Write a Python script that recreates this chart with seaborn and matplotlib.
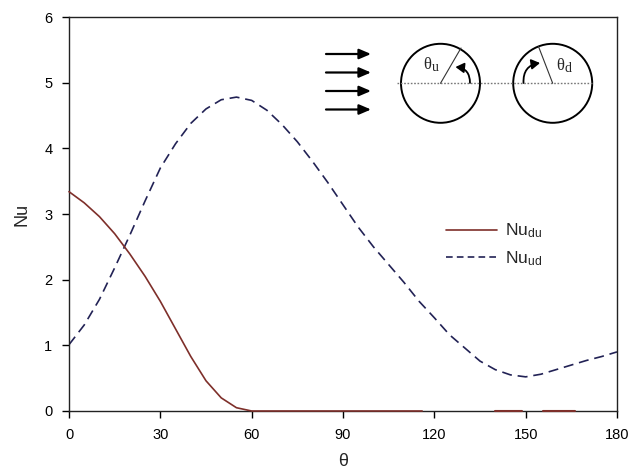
import numpy as np
import pandas as pd
import matplotlib
matplotlib.use("Agg")
import matplotlib.pyplot as plt
import seaborn as sns
from matplotlib.patches import Circle, FancyArrowPatch
from matplotlib.lines import Line2D

# ---------------- data ----------------
theta_du = [0, 5, 10, 15, 20, 25, 30, 35, 40, 45, 50, 55, 60, 70, 80, 90, 100, 110, 116]
nu_du = [3.34, 3.17, 2.96, 2.70, 2.39, 2.05, 1.67, 1.25, 0.83, 0.46, 0.20, 0.05, 0.0,
         0.0, 0.0, 0.0, 0.0, 0.0, 0.0]
theta_du_seg2 = [140, 148.7]
nu_du_seg2 = [0.0, 0.0]
theta_du_seg3 = [155.7, 166.2]
nu_du_seg3 = [0.0, 0.0]

theta_ud = [0, 5, 10, 15, 20, 25, 30, 35, 40, 45, 50, 55, 60, 65, 70, 75, 80, 85, 90,
            95, 100, 105, 110, 115, 120, 125, 130, 135, 140, 145, 150, 155, 160, 165,
            170, 175, 180]
nu_ud = [1.01, 1.31, 1.70, 2.18, 2.68, 3.20, 3.70, 4.07, 4.38, 4.60, 4.74, 4.78, 4.73,
         4.58, 4.36, 4.10, 3.80, 3.48, 3.14, 2.80, 2.50, 2.23, 1.96, 1.67, 1.42, 1.16,
         0.96, 0.76, 0.63, 0.55, 0.52, 0.56, 0.63, 0.70, 0.77, 0.83, 0.90]

x_ticks = [0, 30, 60, 90, 120, 150, 180]
y_ticks = [0, 1, 2, 3, 4, 5, 6]
labels = ["Nu$\\mathregular{_{du}}$", "Nu$\\mathregular{_{ud}}$"]

RED = "#7e2f2a"
BLUE = "#222255"

sns.set_style("white")
plt.rcParams["font.family"] = ["Liberation Sans", "DejaVu Sans"]
plt.rcParams["mathtext.fontset"] = "custom"
plt.rcParams["mathtext.rm"] = "Liberation Sans"

W, H = 638, 472
fig = plt.figure(figsize=(W / 100, H / 100), dpi=100)
ax = fig.add_axes([69 / W, 1 - 411 / H, 548 / W, 394 / H])

df_du = pd.DataFrame({"theta": theta_du, "Nu": nu_du})
df_ud = pd.DataFrame({"theta": theta_ud, "Nu": nu_ud})
sns.lineplot(data=df_du, x="theta", y="Nu", ax=ax, color=RED, lw=1.2, estimator=None,
             sort=False, zorder=5, clip_on=False)
for tx, ny in [(theta_du_seg2, nu_du_seg2), (theta_du_seg3, nu_du_seg3)]:
    sns.lineplot(x=tx, y=ny, ax=ax, color=RED, lw=1.5, estimator=None, zorder=5,
                 clip_on=False)
sns.lineplot(data=df_ud, x="theta", y="Nu", ax=ax, color=BLUE, lw=1.2, estimator=None,
             sort=False, dashes=False, linestyle=(0, (6, 3.5)))

ax.set_xlim(0, 180)
ax.set_ylim(0, 6)
ax.set_xticks(x_ticks)
ax.set_yticks(y_ticks)
ax.tick_params(axis="both", direction="out", length=5, width=1, colors="black",
               labelsize=10.5, bottom=True, left=True, top=False, right=False)
ax.tick_params(axis="x", pad=7)
ax.tick_params(axis="y", pad=7)
for s in ax.spines.values():
    s.set_color("#222222")
    s.set_linewidth(1.0)
    s.set_visible(True)
ax.set_xlabel("θ", fontsize=13, labelpad=8)
ax.set_ylabel("Nu", fontsize=13, labelpad=10)

handles = [Line2D([], [], color=RED, lw=1.2),
           Line2D([], [], color=BLUE, lw=1.2, linestyle=(0, (4, 2.5)))]
leg = ax.legend(handles, labels, loc="upper left", bbox_to_anchor=(0.66, 0.52),
                frameon=False, fontsize=12.5, handlelength=2.9, handletextpad=0.5,
                labelspacing=0.5)

# ---------------- inset schematic (pixel-space axes) ----------------
x0, x1, y0, y1 = 290, 620, 20, 140
iax = fig.add_axes([x0 / W, 1 - y1 / H, (x1 - x0) / W, (y1 - y0) / H])
iax.set_xlim(x0, x1)
iax.set_ylim(y1, y0)
iax.axis("off")

for yy in [54, 72.5, 91, 109.5]:
    iax.annotate("", xy=(371, yy), xytext=(326, yy),
                 arrowprops=dict(arrowstyle="-|>,head_length=0.7,head_width=0.3",
                                 color="black", lw=1.6, shrinkA=0, shrinkB=0))

iax.plot([397, 592], [83.3, 83.3], color="#777777", lw=1.0, linestyle=(0, (1.2, 1.2)))
for cx in [440.5, 552.7]:
    iax.add_patch(Circle((cx, 83.3), 39.5, fill=False, ec="black", lw=1.4))

# radial lines
iax.plot([440.5, 461], [83.3, 48], color="#333333", lw=0.8)
iax.plot([552.7, 538.5], [83.3, 46.5], color="#333333", lw=0.8)

# angle arrows
iax.add_patch(FancyArrowPatch((470, 83), (455.5, 67), connectionstyle="arc3,rad=0.45",
                              arrowstyle="-|>,head_length=5,head_width=3",
                              color="black", lw=1.3, shrinkA=0, shrinkB=0))
iax.add_patch(FancyArrowPatch((523.5, 83), (540, 63), connectionstyle="arc3,rad=-0.45",
                              arrowstyle="-|>,head_length=5,head_width=3",
                              color="black", lw=1.3, shrinkA=0, shrinkB=0))

serif = ["Liberation Serif", "DejaVu Serif"]
iax.text(431, 65, "θ", family=serif, fontsize=12, ha="right", va="center")
iax.text(431.5, 67.5, "u", family=serif, fontsize=10, ha="left", va="center")
iax.text(556, 66, "θ", family=serif, fontsize=12, ha="left", va="center")
iax.text(564.5, 68.5, "d", family=serif, fontsize=10, ha="left", va="center")

fig.savefig("out.png", dpi=100)
